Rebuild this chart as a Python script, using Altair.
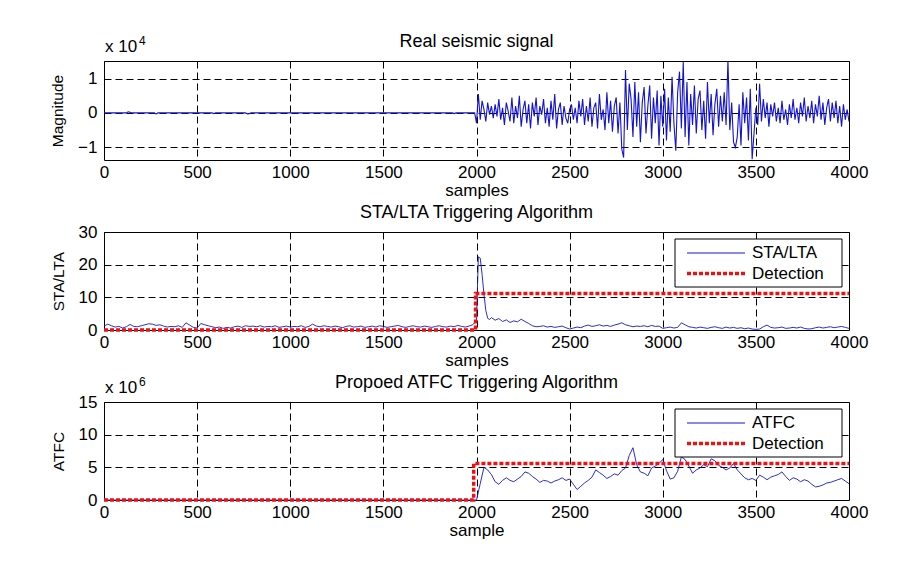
import altair as alt
import pandas as pd

# ---------------- data ----------------
# Real seismic signal (x 10^4)
SEIS_PRE_X = [0, 120, 130, 140, 150, 270, 280, 290, 580, 590, 600, 760, 770, 780, 790, 1870, 1880, 1890, 1990]
SEIS_PRE_Y = [0, 0, 0.03, 0.02, 0, 0, -0.03, 0, 0, -0.02, 0, 0, -0.03, -0.02, 0, 0, -0.02, 0, 0]
SEIS_POST_X = list(range(2000, 4001, 10))
SEIS_POST_Y = [
    -0.30, 0.55, -0.20, 0.35, 0.10, -0.25, 0.30, -0.05, 0.20, -0.15,
    0.25, -0.10, 0.40, -0.20, 0.15, -0.35, 0.30, 0.05, -0.25, 0.45,
    -0.30, 0.20, -0.15, 0.50, -0.40, 0.10, 0.35, -0.30, 0.25, -0.45,
    0.30, -0.10, 0.45, -0.35, 0.20, -0.05, 0.40, -0.30, 0.15, -0.40,
    0.35, -0.20, 0.55, -0.45, 0.10, 0.30, -0.35, 0.20, -0.15, -0.30,
    0.10, 0.25, -0.20, 0.15, -0.30, 0.35, -0.10, 0.40, -0.35, 0.20,
    -0.25, 0.45, -0.40, 0.15, 0.30, -0.45, 0.55, -0.20, 0.10, -0.50,
    0.60, -0.30, 0.35, -0.55, 0.20, 0.45, -0.60, 0.30, -1.05, -1.30,
    1.25, -0.50, 0.85, 0.40, -0.70, 0.90, -0.40, 0.60, -0.85, 0.30,
    0.75, -0.60, 0.20, 0.80, -0.75, 0.45, -0.30, 0.65, -0.95, 0.50,
    -0.40, 0.70, -0.80, 0.45, -0.55, 1.05, -0.30, -1.10, 0.60, 1.20,
    -0.45, 1.48, -0.70, 0.90, -0.95, 0.55, -0.35, 0.80, -0.60, 0.40,
    0.65, -0.50, 0.35, -0.75, 0.90, -0.30, 0.55, -0.65, 0.25, 0.70,
    -0.40, 0.50, -0.25, 0.60, -0.35, 1.55, -0.50, 0.30, -0.85, -1.00,
    -0.70, 0.25, -0.95, 0.60, -0.30, 0.45, -0.80, 0.70, -1.35, -0.60,
    0.15, -0.35, 0.85, -0.25, 0.40, -0.15, 0.30, -0.40, 0.25, -0.10,
    0.30, -0.25, 0.15, -0.30, 0.35, -0.20, 0.10, -0.35, 0.25, -0.15,
    0.40, -0.20, 0.15, -0.30, 0.30, -0.10, 0.45, -0.25, 0.20, -0.15,
    0.35, -0.30, 0.25, -0.10, 0.50, -0.20, 0.30, -0.35, 0.15, 0.40,
    -0.25, 0.30, -0.15, 0.35, -0.30, 0.20, -0.40, 0.25, -0.20, 0.10,
    -0.25,
]

# STA/LTA ratio
STA_X = list(range(0, 2000, 20)) + [2000, 2010, 2020, 2030, 2040, 2050, 2060, 2070, 2080] + list(range(2100, 4001, 20))
STA_Y = [
    1.2, 1.8, 1.3, 0.9, 1.1, 0.6, 1.0, 1.7, 1.1, 1.0,
    1.3, 1.6, 1.9, 1.8, 1.4, 1.6, 1.2, 0.9, 1.1, 1.0,
    1.3, 0.8, 2.2, 1.5, 0.8, 0.6, 2.0, 1.6, 1.3, 1.0,
    0.7, 0.9, 0.5, 0.8, 0.6, 1.0, 1.2, 0.8, 1.3, 1.1,
    1.2, 1.0, 1.3, 0.9, 1.1, 1.0, 1.3, 0.8, 1.0, 1.2,
    0.9, 1.1, 1.0, 1.3, 0.8, 1.1, 1.8, 1.2, 1.0, 1.3,
    1.1, 0.9, 1.2, 1.0, 0.7, 1.1, 1.3, 0.9, 1.0, 1.2,
    0.8, 1.0, 1.2, 0.9, 1.3, 1.1, 0.8, 1.0, 1.2, 1.4,
    1.0, 0.8, 1.1, 1.3, 1.0, 0.9, 1.2, 1.0, 0.8, 1.1,
    1.3, 1.0, 0.9, 1.2, 1.0, 1.4, 1.1, 0.9, 1.2, 1.6,
    3.0, 22.4, 22.0, 17.0, 11.0, 6.0, 3.6, 3.2, 3.8,
    3.0, 3.5, 2.6, 3.1, 2.3, 2.8, 2.5, 3.3, 2.6, 2.0,
    1.3, 1.0, 1.1, 1.3, 0.9, 1.1, 0.8, 1.0, 1.2, 0.7,
    0.3, 0.6, 0.9, 0.7, 1.2, 1.5, 1.1, 1.3, 1.6, 1.2,
    1.4, 1.1, 1.5, 1.8, 2.2, 1.6, 1.3, 1.0, 1.2, 1.1,
    1.3, 1.0, 1.4, 1.1, 1.2, 0.5, 0.7, 0.9, 0.6, 0.8,
    2.2, 1.6, 1.0, 0.8, 0.6, 0.9, 0.7, 0.5, 0.8, 1.0,
    0.7, 0.5, 0.9, 0.6, 0.8, 0.5, 0.7, 0.4, 0.6, 0.3,
    0.2, 0.3, 1.0, 1.5, 0.8, 0.6, 0.7, 0.9, 0.5, 0.6,
    0.8, 0.6, 0.9, 0.5, 0.3, 0.4, 0.7, 0.9, 0.6, 0.8,
    1.0, 0.7, 0.9, 1.1, 0.8, 0.5,
]
STA_DET_X = [0, 1995, 1995, 4000]
STA_DET_Y = [0, 0, 11.2, 11.2]

# ATFC (x 10^6)
ATFC_X = [0, 1990] + list(range(2000, 4001, 20))
ATFC_Y = [0, 0,
    0.0, 2.5, 5.0, 4.6, 3.9, 2.8, 2.4, 3.0, 3.4, 3.0,
    2.8, 3.2, 3.6, 4.3, 4.1, 3.6, 3.2, 2.7, 3.0, 2.9,
    2.6, 2.9, 3.1, 3.4, 3.0, 3.2, 2.4, 1.6, 2.1, 2.6,
    3.0, 3.5, 4.6, 4.2, 3.8, 3.3, 3.6, 4.0, 3.8, 4.5,
    4.9, 6.8, 8.0, 5.4, 4.3, 4.1, 3.7, 4.9, 5.2, 5.6,
    6.2, 4.5, 3.2, 3.4, 4.4, 6.6, 6.2, 5.2, 4.1, 4.6,
    4.9, 5.4, 5.1, 6.3, 6.0, 5.3, 5.0, 4.6, 4.9, 5.6,
    4.6, 4.0, 3.4, 3.1, 3.3, 3.0, 3.8, 3.5, 3.1, 3.5,
    3.7, 3.9, 4.3, 3.6, 3.0, 3.4, 3.2, 2.8, 3.1, 2.9,
    2.4, 2.0, 2.1, 2.3, 2.6, 2.7, 2.9, 3.1, 3.3, 2.9,
    2.5,
]
ATFC_DET_X = [0, 1985, 1985, 4000]
ATFC_DET_Y = [0, 0, 5.6, 5.6]

X_TICKS = [0, 500, 1000, 1500, 2000, 2500, 3000, 3500, 4000]

TITLES = ["Real seismic signal", "STA/LTA Triggering Algorithm", "Propoed ATFC Triggering Algorithm"]

# ---------------- styling ----------------
FONT = "Liberation Sans"
BLUE = "#1414d0"
RED = "#ee1111"
W = 745
H1, H2, H3 = 99, 98, 98
GRID_DASH = [7, 4]


def df_xy(xs, ys):
    assert len(xs) == len(ys)
    return pd.DataFrame({"x": xs, "y": ys, "i": list(range(len(xs)))})


def x_enc(title):
    return alt.X("x:Q", scale=alt.Scale(domain=[0, 4000], nice=False, zero=False),
                 axis=alt.Axis(values=X_TICKS, format="d", title=title, grid=True,
                               gridDash=GRID_DASH, gridColor="black", gridOpacity=1,
                               labelFontSize=17, titleFontSize=17, ticks=False, domain=False,
                               labelPadding=4, titlePadding=2, labelFlush=False,
                               labelOverlap=False, titleFontWeight="normal"))


def y_enc(domain, ticks, title):
    return alt.Y("y:Q", scale=alt.Scale(domain=domain, nice=False, zero=False),
                 axis=alt.Axis(values=ticks, format="d", title=title, grid=True,
                               gridDash=GRID_DASH, gridColor="black", gridOpacity=1,
                               labelFontSize=17, titleFontSize=15.5, ticks=False, domain=False,
                               labelPadding=7, titlePadding=12, labelFlush=False,
                               labelOverlap=False, titleFontWeight="normal"))


one = pd.DataFrame({"k": [0]})


def panel_title(text):
    return alt.Chart(one).mark_text(align="center", baseline="alphabetic", fontSize=18,
                                    font=FONT, color="black").encode(
        x=alt.value(W / 2), y=alt.value(-14), text=alt.value(text))


def exponent(power):
    base = alt.Chart(one)
    t1 = base.mark_text(align="left", baseline="alphabetic", fontSize=17, font=FONT, color="black").encode(
        x=alt.value(1), y=alt.value(-9), text=alt.value("x 10"))
    t2 = base.mark_text(align="left", baseline="alphabetic", fontSize=12, font=FONT, color="black").encode(
        x=alt.value(35), y=alt.value(-16), text=alt.value(power))
    return [t1, t2]


def legend(label1):
    base = alt.Chart(one)
    box = base.mark_rect(fill="white", stroke="black", strokeWidth=1).encode(
        x=alt.value(571), x2=alt.value(738), y=alt.value(7), y2=alt.value(55))
    l1 = base.mark_rule(color=BLUE, strokeWidth=1).encode(
        x=alt.value(583), x2=alt.value(641), y=alt.value(21))
    l2 = base.mark_rule(color=RED, strokeWidth=3.5, strokeDash=[4, 2]).encode(
        x=alt.value(583), x2=alt.value(641), y=alt.value(41.5))
    t1 = base.mark_text(align="left", baseline="middle", fontSize=17, font=FONT, color="black").encode(
        x=alt.value(648), y=alt.value(21), text=alt.value(label1))
    t2 = base.mark_text(align="left", baseline="middle", fontSize=17, font=FONT, color="black").encode(
        x=alt.value(648), y=alt.value(41.5), text=alt.value("Detection"))
    return [box, l1, l2, t1, t2]


# ---------------- panel 1 ----------------
seis = df_xy(SEIS_PRE_X + SEIS_POST_X, SEIS_PRE_Y + SEIS_POST_Y)
X1 = x_enc("samples")
Y1 = y_enc([-1.37, 1.51], [-1, 0, 1], "Magnitude")
p1_line = alt.Chart(seis).mark_line(color=BLUE, strokeWidth=1.1, clip=True).encode(
    x=X1, y=Y1, order="i:Q")
p1 = alt.layer(p1_line, panel_title(TITLES[0]), *exponent("4")).properties(width=W, height=H1)

# ---------------- panel 2 ----------------
sta = df_xy(STA_X, STA_Y)
sta_det = df_xy(STA_DET_X, STA_DET_Y)
X2 = x_enc("samples")
Y2 = y_enc([0, 30], [0, 10, 20, 30], "STA/LTA")
p2_line = alt.Chart(sta).mark_line(color=BLUE, strokeWidth=0.9).encode(x=X2, y=Y2, order="i:Q")
p2_det = alt.Chart(sta_det).mark_line(color=RED, strokeWidth=3.5, strokeDash=[4, 2]).encode(
    x=X2, y=Y2, order="i:Q")
p2 = alt.layer(p2_line, p2_det, panel_title(TITLES[1]), *legend("STA/LTA")).properties(width=W, height=H2)

# ---------------- panel 3 ----------------
atfc = df_xy(ATFC_X, ATFC_Y)
atfc_det = df_xy(ATFC_DET_X, ATFC_DET_Y)
X3 = x_enc("sample")
Y3 = y_enc([0, 15], [0, 5, 10, 15], "ATFC")
p3_line = alt.Chart(atfc).mark_line(color=BLUE, strokeWidth=0.9).encode(x=X3, y=Y3, order="i:Q")
p3_det = alt.Chart(atfc_det).mark_line(color=RED, strokeWidth=3.5, strokeDash=[4, 2]).encode(
    x=X3, y=Y3, order="i:Q")
p3 = alt.layer(p3_line, p3_det, panel_title(TITLES[2]), *exponent("6"), *legend("ATFC")).properties(
    width=W, height=H3)

chart = alt.vconcat(p1, p2, p3, spacing=4).properties(
    padding={"left": 42, "top": 24, "right": 5, "bottom": 5},
    background="white",
).configure_view(stroke="black", strokeWidth=1).configure_axis(
    labelFont=FONT, titleFont=FONT, labelColor="black", titleColor="black"
)

chart.save("out.html", embed_options={"renderer": "svg", "actions": False})
